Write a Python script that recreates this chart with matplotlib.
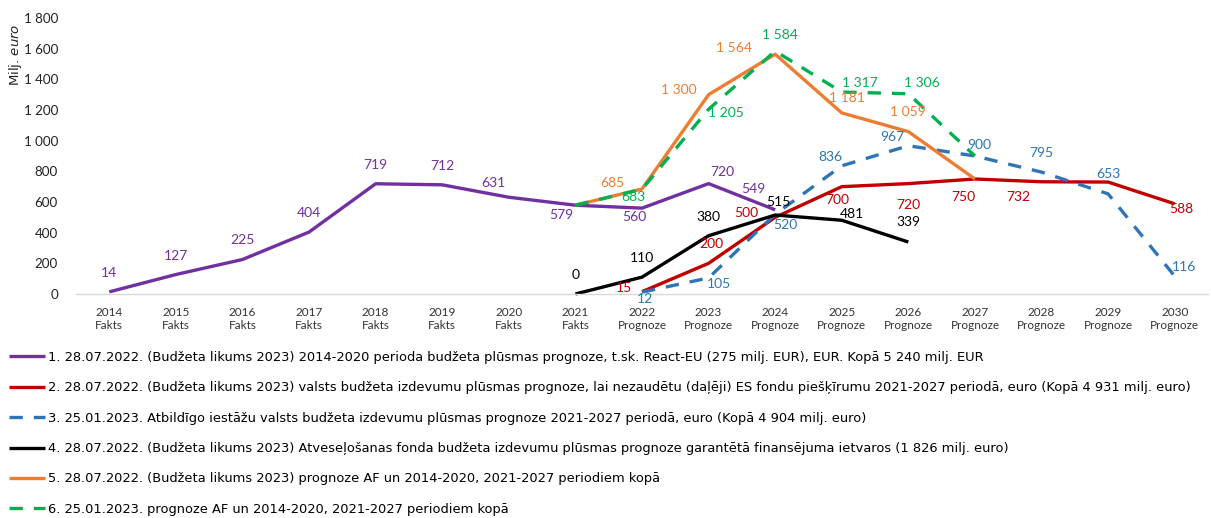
import matplotlib
matplotlib.use("Agg")
import matplotlib.pyplot as plt
import numpy as np

nan = np.nan

years = [2014, 2015, 2016, 2017, 2018, 2019, 2020, 2021, 2022,
         2023, 2024, 2025, 2026, 2027, 2028, 2029, 2030]
phase = ["Fakts"] * 8 + ["Prognoze"] * 9

s1 = [14, 127, 225, 404, 719, 712, 631, 579, 560, 720, 549, nan, nan, nan, nan, nan, nan]
s2 = [nan, nan, nan, nan, nan, nan, nan, nan, 15, 200, 500, 700, 720, 750, 732, 730, 588]
s3 = [nan, nan, nan, nan, nan, nan, nan, nan, 12, 105, 520, 836, 967, 900, 795, 653, 116]
s4 = [nan, nan, nan, nan, nan, nan, nan, 0, 110, 380, 515, 481, 339, nan, nan, nan, nan]
s5 = [nan, nan, nan, nan, nan, nan, nan, 579, 685, 1300, 1564, 1181, 1059, 750, nan, nan, nan]
s6 = [nan, nan, nan, nan, nan, nan, nan, 579, 683, 1205, 1584, 1317, 1306, 900, nan, nan, nan]

labels = [
    "1. 28.07.2022. (Budžeta likums 2023) 2014-2020 perioda budžeta plūsmas prognoze, t.sk. React-EU (275 milj. EUR), EUR. Kopā 5 240 milj. EUR",
    "2. 28.07.2022. (Budžeta likums 2023) valsts budžeta izdevumu plūsmas prognoze, lai nezaudētu (daļēji) ES fondu piešķīrumu 2021-2027 periodā, euro (Kopā 4 931 milj. euro)",
    "3. 25.01.2023. Atbildīgo iestāžu valsts budžeta izdevumu plūsmas prognoze 2021-2027 periodā, euro (Kopā 4 904 milj. euro)",
    "4. 28.07.2022. (Budžeta likums 2023) Atveseļošanas fonda budžeta izdevumu plūsmas prognoze garantētā finansējuma ietvaros (1 826 milj. euro)",
    "5. 28.07.2022. (Budžeta likums 2023) prognoze AF un 2014-2020, 2021-2027 periodiem kopā",
    "6. 25.01.2023. prognoze AF un 2014-2020, 2021-2027 periodiem kopā",
]

colors = ["#7030A0", "#C00000", "#2E75B6", "#000000", "#ED7D31", "#00B050"]
dashed = [False, False, True, False, False, True]

# label offsets in pixels (dx, dy downwards), None = no label
off1 = [(0, -19)] * 6 + [(-15, -14), (-14, 10), (-8, 9), (14, -12), (-22, -21)] + [None] * 6
off2 = [None] * 8 + [(-18, -4), (3, -19), (-29, -4), (-5, 13), (0, 21), (-12, 18), (-23, 15), None, (7, 5)]
off3 = [None] * 8 + [(3, 7), (10, 6), (10, 11), (-11, -9), (-16, -9), (4, -11), (0, -19), (0, -20), (9, -9)]
off4 = [None] * 7 + [(0, -19), (0, -19), (0, -19), (3, -13), (10, -6), (0, -20)] + [None] * 4
off5 = [None] * 8 + [(-30, -6), (-30, -5), (-41, -6), (5, -15), (0, -20), None] + [None] * 3
off6 = [None] * 8 + [(-9, 8), (17, 4), (5, -16), (18, -9), (14, -11), None] + [None] * 3

series = [s1, s2, s3, s4, s5, s6]
offsets = [off1, off2, off3, off4, off5, off6]

narrow = ["Lato", "DejaVu Sans"]

fig = plt.figure(figsize=(12.11, 5.18), dpi=100)
ax = fig.add_axes([76 / 1211, 1 - 294 / 518, (1208 - 76) / 1211, (294 - 18) / 518])

x = np.arange(len(years))
handles = []
for vals, col, d in zip(series, colors, dashed):
    ls = (0, (4, 3.3)) if d else "-"
    h, = ax.plot(x, vals, color=col, lw=2.4, ls=ls, dash_capstyle="butt",
                 solid_capstyle="butt", clip_on=False)
    handles.append(h)

for vals, offs, col in zip(series, offsets, colors):
    for i, (v, o) in enumerate(zip(vals, offs)):
        if o is None or np.isnan(v):
            continue
        txt = f"{v:,.0f}".replace(",", " ")
        ax.annotate(txt, (i, v), xytext=(o[0], -o[1]), textcoords="offset pixels",
                    ha="center", va="center", color=col, fontsize=10,
                    family=narrow, annotation_clip=False)

ax.set_xlim(-0.5, len(years) - 0.5)
ax.set_ylim(0, 1800)
ax.set_yticks(range(0, 1801, 200))
ax.set_yticklabels([f"{t:,}".replace(",", " ") for t in range(0, 1801, 200)],
                   family=narrow, fontsize=9.6, color="#222222")
ax.set_xticks(x)
ax.set_xticklabels([f"{y}\n{p}" for y, p in zip(years, phase)],
                   family=narrow, fontsize=8.5, color="#333333", linespacing=1.3)
ax.tick_params(axis="both", length=0)
ax.tick_params(axis="y", pad=13)
ax.tick_params(axis="x", pad=9)
for side in ["top", "right", "left"]:
    ax.spines[side].set_visible(False)
ax.spines["bottom"].set_color("#D9D9D9")
ax.spines["bottom"].set_linewidth(1)

fig.text(16 / 1211, 1 - 55 / 518, r"Milj. $\it{euro}$", rotation=90,
         ha="center", va="center", fontsize=9.5, color="#222222")

fig.legend(handles, labels, loc="upper left", bbox_to_anchor=(9 / 1211, 1 - 351 / 518),
           frameon=False, fontsize=9.4, handlelength=2.75, handletextpad=0.25,
           labelspacing=1.33, borderpad=0, borderaxespad=0)

fig.savefig("out.png", dpi=100)
